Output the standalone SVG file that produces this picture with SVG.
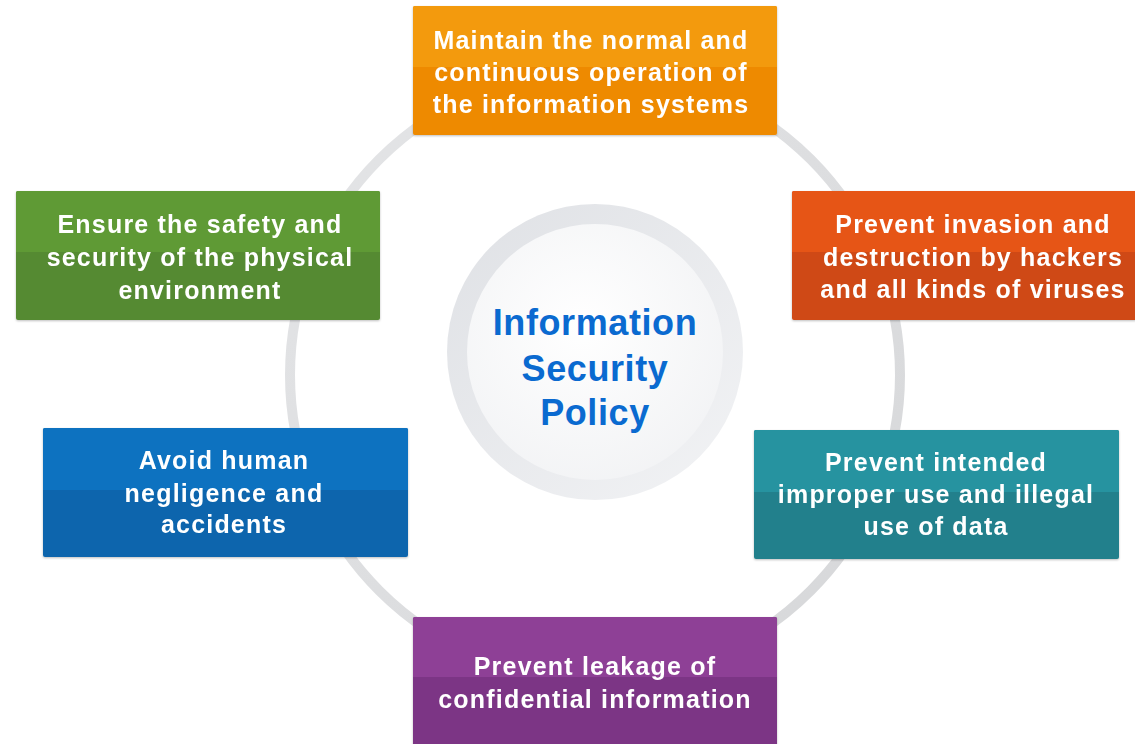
<svg xmlns="http://www.w3.org/2000/svg" width="1135" height="744" viewBox="0 0 1135 744">
<defs>
<style>
.t{font-family:"Liberation Sans",Arial,sans-serif;font-weight:bold;font-size:25px;letter-spacing:1.2px;fill:#ffffff;text-anchor:middle}
.c{font-family:"Liberation Sans",Arial,sans-serif;font-weight:bold;font-size:36px;letter-spacing:0.6px;fill:#0a6ad0;text-anchor:middle}
</style>
<linearGradient id="ringg" x1="0" y1="0" x2="1" y2="1">
<stop offset="0" stop-color="#e4e5e7"/><stop offset="1" stop-color="#d6d7d9"/>
</linearGradient>
<linearGradient id="outerg" x1="0" y1="0" x2="1" y2="1">
<stop offset="0" stop-color="#dfe1e5"/><stop offset="1" stop-color="#f2f3f5"/>
</linearGradient>
<radialGradient id="innerg" cx="0.45" cy="0.4" r="0.7">
<stop offset="0" stop-color="#ffffff"/><stop offset="1" stop-color="#f1f2f4"/>
</radialGradient>
<filter id="sh" x="-5%" y="-5%" width="110%" height="115%">
<feDropShadow dx="0" dy="1" stdDeviation="1.2" flood-color="#000" flood-opacity="0.25"/>
</filter>
</defs>
<rect width="1135" height="744" fill="#ffffff"/>
<g id="connectors">
<circle cx="595" cy="375" r="305" fill="none" stroke="url(#ringg)" stroke-width="10"/>
</g>
<g id="center">
<circle cx="595" cy="352" r="148" fill="url(#outerg)"/>
<circle cx="595" cy="352" r="128" fill="url(#innerg)"/>
<text class="c" x="595" y="335">Information</text>
<text class="c" x="595" y="381">Security</text>
<text class="c" x="595" y="425">Policy</text>
</g>
<g id="n1" filter="url(#sh)">
<rect x="413" y="6" width="364" height="129" rx="2" fill="#ee8a06"/>
<path d="M415 6H775a2 2 0 0 1 2 2V67H413V8a2 2 0 0 1 2-2z" fill="#f39a0a"/>
<text class="t" x="591" y="49">Maintain the normal and</text>
<text class="t" x="591" y="81">continuous operation of</text>
<text class="t" x="591" y="113">the information systems</text>
</g>
<g id="n2" filter="url(#sh)">
<rect x="792" y="191" width="345" height="129" rx="2" fill="#cf4a14"/>
<path d="M794 191H1137V252H792V193a2 2 0 0 1 2-2z" fill="#e65418"/>
<text class="t" x="973" y="233">Prevent invasion and</text>
<text class="t" x="973" y="266">destruction by hackers</text>
<text class="t" x="973" y="298">and all kinds of viruses</text>
</g>
<g id="n3" filter="url(#sh)">
<rect x="754" y="430" width="365" height="129" rx="2" fill="#20808c"/>
<path d="M756 430H1117a2 2 0 0 1 2 2V492H754V432a2 2 0 0 1 2-2z" fill="#2593a0"/>
<text class="t" x="936" y="471">Prevent intended</text>
<text class="t" x="936" y="503">improper use and illegal</text>
<text class="t" x="936" y="535">use of data</text>
</g>
<g id="n4" filter="url(#sh)">
<rect x="413" y="617" width="364" height="130" rx="2" fill="#7b3685"/>
<path d="M415 617H775a2 2 0 0 1 2 2V677H413V619a2 2 0 0 1 2-2z" fill="#8e3f96"/>
<text class="t" x="595" y="675">Prevent leakage of</text>
<text class="t" x="595" y="708">confidential information</text>
</g>
<g id="n5" filter="url(#sh)">
<rect x="43" y="428" width="365" height="129" rx="2" fill="#0965ad"/>
<path d="M45 428H406a2 2 0 0 1 2 2V490H43V430a2 2 0 0 1 2-2z" fill="#0a72c0"/>
<text class="t" x="224" y="469">Avoid human</text>
<text class="t" x="224" y="502">negligence and</text>
<text class="t" x="224" y="533">accidents</text>
</g>
<g id="n6" filter="url(#sh)">
<rect x="16" y="191" width="364" height="129" rx="2" fill="#548a30"/>
<path d="M18 191H378a2 2 0 0 1 2 2V252H16V193a2 2 0 0 1 2-2z" fill="#5e9a35"/>
<text class="t" x="200" y="233">Ensure the safety and</text>
<text class="t" x="200" y="266">security of the physical</text>
<text class="t" x="200" y="299">environment</text>
</g>
</svg>
